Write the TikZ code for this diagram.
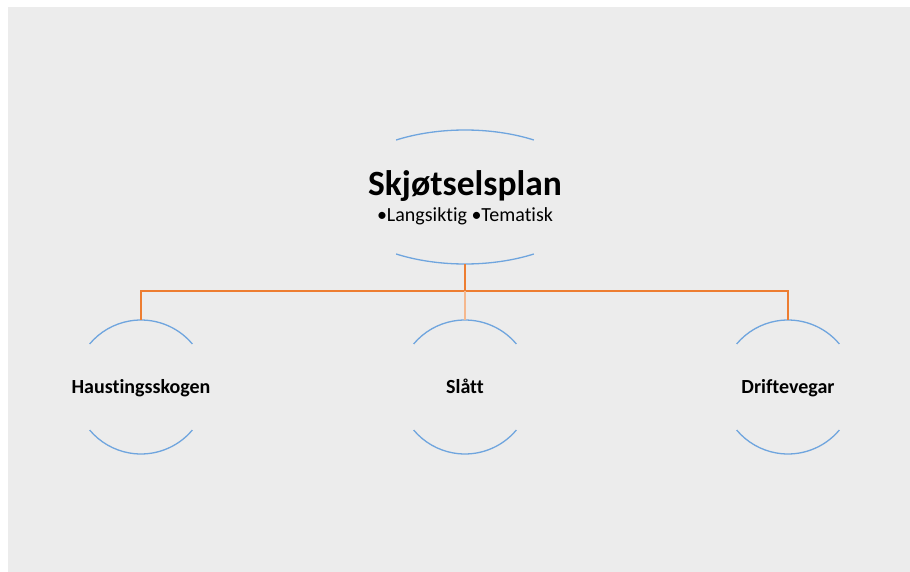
\documentclass[tikz,border=0pt]{standalone}
\usepackage{fontspec}
\setmainfont{Carlito}[Ligatures=NoCommon]
\usepackage{xcolor}
\usetikzlibrary{shapes.geometric, positioning}

\definecolor{bggray}{HTML}{ECECEC}
\definecolor{arcblue}{HTML}{6FA5DE}
\definecolor{linkorange}{HTML}{ED7D31}

\begin{document}
\begin{tikzpicture}[x=1pt, y=-1pt]
    % Define styles
    \tikzstyle{topshape} = [ellipse, minimum width=262pt, minimum height=134pt, inner sep=0pt]
    \tikzstyle{childshape} = [circle, minimum size=134pt, inner sep=0pt]
    \tikzstyle{arcline} = [arcblue, line width=1.3pt]
    \tikzstyle{link} = [linkorange, line width=1.6pt]
    \tikzstyle{childlabel} = [anchor=base, inner sep=0pt, font=\bfseries\fontsize{20}{24}\selectfont]

    % Frame
    \useasboundingbox (0,0) rectangle (910,572);
    \fill[bggray] (8,7) rectangle (910,572);

    % TOP
    \node (plan) [topshape] at (465,197) {};
    \node (plan_title) [anchor=base, inner sep=0pt, font=\bfseries\fontsize{35.5}{40}\selectfont] at (465,196) {Skjøtselsplan};
    \node (plan_points) [anchor=base, inner sep=0pt, font=\fontsize{20}{24}\selectfont] at (465,222) {•Langsiktig •Tematisk};

    % CHILDREN
    \node (haust) [childshape] at (141,387) {};
    \node (slaatt) [childshape] at (465,387) {};
    \node (drift) [childshape] at (788,387) {};
    \node (haust_label) [childlabel] at (141,393) {Haustingsskogen};
    \node (slaatt_label) [childlabel] at (465,393) {Slått};
    \node (drift_label) [childlabel] at (788,393) {Driftevegar};

    % Arcs
    \draw[arcline] (plan.center) ++(58.3:131pt and 67pt) arc[start angle=58.3, end angle=121.7, x radius=131pt, y radius=67pt];
    \draw[arcline] (plan.center) ++(-58.3:131pt and 67pt) arc[start angle=-58.3, end angle=-121.7, x radius=131pt, y radius=67pt];
    \foreach \n in {haust, slaatt, drift} {
        \draw[arcline] (\n.center) ++(40:67pt) arc[start angle=40, end angle=140, radius=67pt];
        \draw[arcline] (\n.center) ++(-40:67pt) arc[start angle=-40, end angle=-140, radius=67pt];
    }

    % CONNECTIONS
    \coordinate (branch) at (465,291);
    \draw[link] (plan.south) -- (branch);
    \draw[link] (branch) -| (haust.north);
    \draw[link] (branch) -| (drift.north);
    \draw[link, linkorange!55] (branch) -- (slaatt.north);
\end{tikzpicture}
\end{document}
